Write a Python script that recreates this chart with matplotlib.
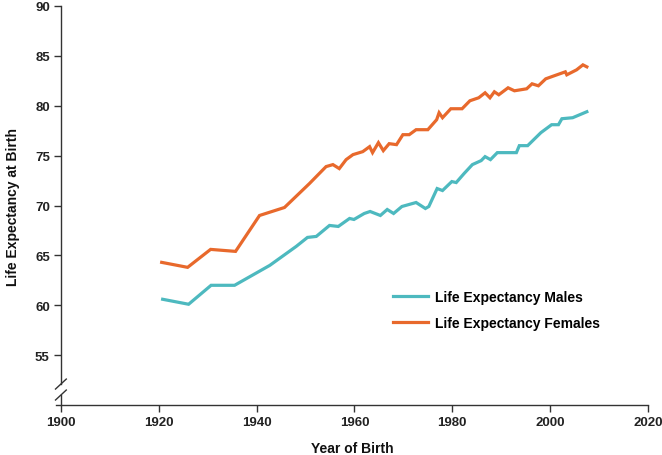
import matplotlib
matplotlib.use("Agg")
import matplotlib.pyplot as plt

plt.rcParams['font.family'] = ['Liberation Sans', 'DejaVu Sans']

male_years = [1920.8, 1926.1, 1930.7, 1935.5, 1942.7, 1948.1, 1950.4, 1952.2, 1954.9, 1956.7,
              1959.0, 1959.9, 1962.0, 1963.2, 1965.3, 1966.7, 1968.0, 1969.7, 1972.6, 1974.5,
              1975.2, 1976.9, 1978.0, 1979.9, 1980.8, 1982.4, 1984.1, 1985.9, 1986.7, 1987.8,
              1989.2, 1993.1, 1993.7, 1995.4, 1998.1, 2000.3, 2001.7, 2002.4, 2004.6, 2007.5]
male_values = [60.6, 60.1, 62.0, 62.0, 64.0, 65.9, 66.8, 66.9, 68.0, 67.9,
               68.7, 68.6, 69.2, 69.4, 69.0, 69.6, 69.2, 69.9, 70.3, 69.7,
               69.9, 71.7, 71.5, 72.4, 72.3, 73.2, 74.1, 74.5, 74.9, 74.6,
               75.3, 75.3, 76.0, 76.0, 77.3, 78.1, 78.1, 78.7, 78.8, 79.4]

female_years = [1920.6, 1925.9, 1930.6, 1935.7, 1940.6, 1945.7, 1950.8, 1954.2, 1955.6, 1956.9,
                1958.3, 1959.7, 1961.7, 1963.1, 1963.7, 1964.9, 1965.9, 1967.1, 1968.6, 1969.9,
                1971.2, 1972.6, 1975.0, 1976.8, 1977.3, 1978.0, 1979.7, 1982.0, 1983.6, 1985.4,
                1986.7, 1987.7, 1988.6, 1989.5, 1991.4, 1992.7, 1995.2, 1996.3, 1997.6, 1999.1,
                2000.8, 2003.1, 2003.4, 2005.4, 2006.7, 2007.5]
female_values = [64.3, 63.8, 65.6, 65.4, 69.0, 69.8, 72.2, 73.9, 74.1, 73.7,
                 74.6, 75.1, 75.4, 75.9, 75.3, 76.3, 75.5, 76.2, 76.1, 77.1,
                 77.1, 77.6, 77.6, 78.6, 79.3, 78.8, 79.7, 79.7, 80.5, 80.8,
                 81.3, 80.8, 81.4, 81.1, 81.8, 81.5, 81.7, 82.2, 82.0, 82.7,
                 83.0, 83.4, 83.1, 83.6, 84.1, 83.9]

x_ticks = [1900, 1920, 1940, 1960, 1980, 2000, 2020]
y_ticks = [55, 60, 65, 70, 75, 80, 85, 90]

male_color = '#4DB9BF'
female_color = '#E8692C'
axis_color = '#333333'

fig = plt.figure(figsize=(6.62, 4.56), dpi=100)
ax = fig.add_axes([56/662, 1 - 406/456, (648 - 56)/662, (406 - 7)/456])

ax.plot(male_years, male_values, color=male_color, lw=2.3, label='Life Expectancy Males',
        solid_joinstyle='miter')
ax.plot(female_years, female_values, color=female_color, lw=2.3, label='Life Expectancy Females',
        solid_joinstyle='miter')

ax.set_xlim(1899, 2020)
ax.set_ylim(50, 90)
ax.set_xticks(x_ticks)
ax.set_yticks(y_ticks)

for s in ['top', 'right']:
    ax.spines[s].set_visible(False)
ax.spines['left'].set_position(('data', 1900))
ax.spines['left'].set_bounds(52.1, 90)
for s in ['left', 'bottom']:
    ax.spines[s].set_color(axis_color)
    ax.spines[s].set_linewidth(1.0)

# axis break marks
ax.plot([1900, 1900], [50, 51.0], color=axis_color, lw=1.0, clip_on=False)
for yb in (51.0, 52.1):
    ax.plot([1898.9, 1901.1], [yb - 0.5, yb + 0.5], color=axis_color, lw=1.0, clip_on=False)

ax.tick_params(axis='both', direction='out', length=5, width=1.0, color=axis_color,
               labelsize=9.5, labelcolor='#222222', pad=3)
for lbl in ax.get_xticklabels() + ax.get_yticklabels():
    lbl.set_fontweight('bold')

ax.set_xlabel('Year of Birth', fontsize=10, fontweight='bold', color='#111111', labelpad=9)
ax.set_ylabel('Life Expectancy at Birth', fontsize=10, fontweight='bold', color='#111111', labelpad=11)

leg = ax.legend(loc='upper left', bbox_to_anchor=(0.548, 0.32), frameon=False,
                prop={'weight': 'bold', 'size': 10}, handlelength=2.5, handletextpad=0.55,
                labelspacing=0.85)

fig.savefig('out.png', dpi=100)
